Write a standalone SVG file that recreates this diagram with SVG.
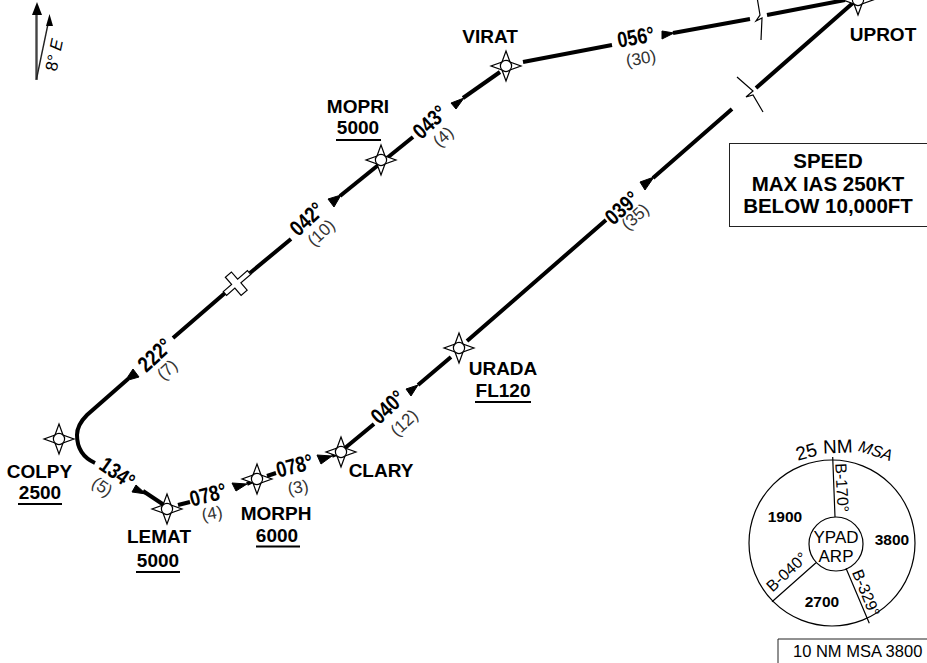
<svg xmlns="http://www.w3.org/2000/svg" width="927" height="663" viewBox="0 0 927 663">
<style>
text{font-family:"Liberation Sans",Arial,sans-serif;fill:#000}
.n{font-size:19px;font-weight:bold;text-anchor:middle}
.h{font-size:22px;font-weight:bold;text-anchor:middle}
.d{font-size:17px;text-anchor:middle;fill:#333}
.m{font-size:17px;text-anchor:middle}
.l{font-size:16px;text-anchor:middle}
.b{font-size:15.500px;font-weight:bold;text-anchor:middle}
.x{font-size:20.500px;font-weight:bold;text-anchor:middle}
.r{fill:none;stroke:#000;stroke-width:4}
.t{fill:none;stroke:#000;stroke-width:1.2}
.u{stroke:#000;stroke-width:2}
.s{fill:#fff;stroke:#000;stroke-width:1.2}
.a{fill:#000;stroke:#000;stroke-width:1;stroke-linejoin:miter}
</style>
<defs>
<g id="wp"><path class="s" d="M0-15L4-4L15 0L4 4L0 15L-4 4L-15 0L-4-4Z"/><circle class="s" r="5.600"/></g>
</defs>
<g id="connectors">
<path class="r" d="M95 463C84 458 77 449 77 435C77 427 81 421 87 415L128 379"/>
<path class="a" d="M133 369L139 377L125 381Z"/>
<path class="r" d="M143 491L164 505"/>
<path class="a" d="M136 485L132 492L146 494Z"/>
<path class="r" d="M178 505L190 502"/>
<path class="a" d="M232 483L236 491L247 484Z"/>
<path class="r" d="M247 484L257 479M267 476L276 473M332 456L341 452"/>
<path class="a" d="M317 455L321 464L332 456Z"/>
<path class="r" d="M345 448L374 424M418 385L451 357"/>
<path class="a" d="M406 389L411 396L418 385Z"/>
<path class="r" d="M467 341L606 220M653 178L732 109M756 88L854 2"/>
<path class="a" d="M640 182L645 190L654 177Z"/>
<path class="r" d="M523 62L612 45M673 33L750 19M767 15L845 0"/>
<path class="a" d="M662 31L662 39L674 33Z"/>
<path class="r" d="M500 72L463 98"/>
<path class="a" d="M451 103L456 109L464 98Z"/>
<path class="r" d="M413 137L340 196"/>
<path class="a" d="M328 199L334 207L341 195Z"/>
<path class="r" d="M291 239L250 273M225 293L173 338"/>
<path class="t" d="M757-3L760 15L756 21L762 18L761 40"/>
<path class="t" d="M737 77L753 91L746 97L753 95L763 112"/>
</g>
<g id="plane"><g transform="translate(237 283) rotate(-41)"><path class="s" d="M-16-2.500H-5V-12H3V-2.500H16V2.500H3V12H-5V2.500H-16Z" stroke-width="1.400"/></g></g>
<g id="north">
<path d="M36.500 80V14" stroke="#444" stroke-width="2.400" fill="none"/><path d="M37 2L32 15H42Z"/>
<path d="M36.500 79L48 24" stroke="#222" stroke-width="1.400" fill="none"/><path d="M49.500 14L46 26H53Z"/>
<text transform="translate(56.500 72) rotate(-78)" font-size="17">8° <tspan font-style="italic">E</tspan></text>
</g>
<g id="COLPY"><use href="#wp" x="59" y="439"/><text class="n" x="39.500" y="478">COLPY</text><text class="n" x="40" y="499">2500</text><line class="u" x1="18" y1="504" x2="62" y2="504"/></g>
<g id="LEMAT"><use href="#wp" x="167" y="509"/><text class="n" x="159" y="543">LEMAT</text><text class="n" x="158" y="567">5000</text><line class="u" x1="136" y1="572" x2="180" y2="572"/></g>
<g id="MORPH"><use href="#wp" x="257" y="479"/><text class="n" x="276" y="520">MORPH</text><text class="n" x="277" y="542">6000</text><line class="u" x1="256" y1="546.500" x2="300" y2="546.500"/></g>
<g id="CLARY"><use href="#wp" x="341" y="452"/><text class="n" x="381" y="477">CLARY</text></g>
<g id="URADA"><use href="#wp" x="459" y="348"/><text class="n" x="503" y="375">URADA</text><text class="n" x="503" y="397">FL120</text><line class="u" x1="475" y1="402" x2="531" y2="402"/></g>
<g id="VIRAT"><use href="#wp" x="506" y="66"/><text class="n" x="490" y="43">VIRAT</text></g>
<g id="UPROT"><use href="#wp" x="858" y="0"/><text class="n" x="883" y="41">UPROT</text></g>
<g id="MOPRI"><use href="#wp" x="381" y="160"/><text class="n" x="358" y="113">MOPRI</text><text class="n" x="358" y="134">5000</text><line class="u" x1="336" y1="140" x2="381" y2="140"/></g>
<g id="legs">
<text class="h" transform="translate(160 360.500) rotate(-43) scale(.82 1)">222°</text><text class="d" transform="translate(171 374) rotate(-43)">(7)</text>
<text class="h" transform="translate(113 479) rotate(35) scale(.82 1)">134°</text><text class="d" transform="translate(99 491.500) rotate(35)">(5)</text>
<text class="h" transform="translate(210 502) rotate(-15) scale(.82 1)">078°</text><text class="d" transform="translate(213 519) rotate(-10)">(4)</text>
<text class="h" transform="translate(296.500 473) rotate(-15) scale(.82 1)">078°</text><text class="d" transform="translate(299 493) rotate(-10)">(3)</text>
<text class="h" transform="translate(393 412.500) rotate(-43) scale(.82 1)">040°</text><text class="d" transform="translate(408 427) rotate(-43)">(12)</text>
<text class="h" transform="translate(627 213.500) rotate(-42) scale(.82 1)">039°</text><text class="d" transform="translate(639 221) rotate(-42)">(35)</text>
<text class="h" transform="translate(637 44.500) rotate(-10) scale(.82 1)">056°</text><text class="d" transform="translate(642 64) rotate(-10)">(30)</text>
<text class="h" transform="translate(435 127.500) rotate(-43) scale(.82 1)">043°</text><text class="d" transform="translate(447 141) rotate(-43)">(4)</text>
<text class="h" transform="translate(312 224.500) rotate(-43) scale(.82 1)">042°</text><text class="d" transform="translate(325 237) rotate(-43)">(10)</text>
</g>
<g id="speed"><rect x="729.500" y="143.500" width="200" height="83" fill="none" stroke="#222" stroke-width="1"/>
<text class="x" x="828" y="168">SPEED</text><text class="x" x="828" y="191">MAX IAS 250KT</text><text class="x" x="828" y="213">BELOW 10,000FT</text></g>
<g id="msa">
<circle cx="832" cy="543" r="83" fill="none" stroke="#000" stroke-width="1.200"/>
<circle cx="836" cy="544" r="27" fill="none" stroke="#000" stroke-width="1.200"/>
<path class="t" d="M832.700 457L835 517M772 601.700L816 562.700M846 568.300L869.300 623.300"/>
<text class="m" font-size="19" style="font-size:19px" transform="translate(808 458) rotate(-15)">25</text>
<text class="m" style="font-size:19px" transform="translate(838 453) rotate(-2)">NM</text>
<text class="m" font-style="italic" style="font-size:16px" transform="translate(874 456) rotate(18)">MSA</text>
<text class="m" x="836" y="543">YPAD</text><text class="m" x="836" y="562">ARP</text>
<text class="b" x="785" y="522">1900</text><text class="b" x="892" y="545">3800</text><text class="b" x="822" y="606.500">2700</text>
<text class="l" transform="translate(836.500 488) rotate(87)">B-170°</text>
<text class="l" transform="translate(790.500 576) rotate(-43)">B-040°</text>
<text class="l" transform="translate(861 595) rotate(68)">B-329°</text>
</g>
<g id="tenNm"><path d="M778 663V639H927" fill="none" stroke="#222" stroke-width="1"/><text x="793" y="657" font-size="16.500" fill="#222">10 NM MSA 3800</text></g>
</svg>
